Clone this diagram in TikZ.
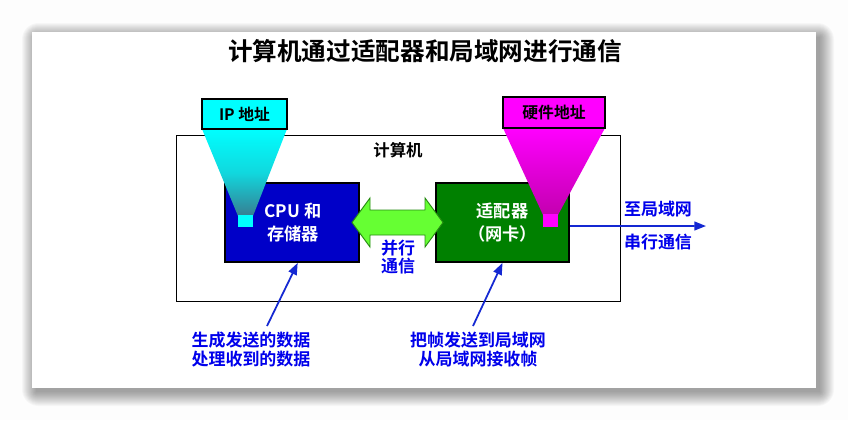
\documentclass[tikz,border=0pt]{standalone}
\usepackage{fontspec}
\setmainfont{Noto Sans CJK SC}[BoldFont={Noto Sans CJK SC Bold}]
\usetikzlibrary{arrows.meta}
\definecolor{pagegray}{RGB}{253,253,253}
\definecolor{cpublue}{RGB}{0,0,200}
\definecolor{nicgreen}{RGB}{0,128,0}
\definecolor{busgreen}{RGB}{102,255,51}
\definecolor{busedge}{RGB}{40,140,20}
\definecolor{labelblue}{RGB}{0,0,235}
\definecolor{linkblue}{RGB}{20,40,210}
\definecolor{ipcyan}{RGB}{0,255,255}
\definecolor{ipteal}{RGB}{55,125,145}
\definecolor{hwmagenta}{RGB}{255,0,255}
\definecolor{hwdeep}{RGB}{195,0,175}
\begin{document}
\begin{tikzpicture}[x=0.03cm,y=-0.03cm,
  unitbox/.style={draw=black,line width=1.6pt,inner sep=0pt,text=white,
    minimum width=4cm,minimum height=2.37cm},
  unittext/.style={text=white,align=center,inner sep=0pt,
    font=\bfseries\fontsize{14.7}{19.6}\selectfont},
  tagbox/.style={draw=black,line width=1.6pt,inner sep=0pt,
    font=\bfseries\fontsize{13.5}{16}\selectfont},
  bluetext/.style={text=labelblue,align=center,inner sep=0pt,
    font=\bfseries\fontsize{14.5}{16.2}\selectfont},
  pointer/.style={draw=linkblue,line width=1.5pt,
    -{Triangle[length=10pt,width=7.5pt]}},
  dot/.style={inner sep=0pt,minimum width=0.45cm,minimum height=0.38cm},
]
\useasboundingbox (0,0) rectangle (848,420);
\fill[pagegray] (0,0) rectangle (848,420);

% soft shadow under the sheet
\foreach \i in {0,...,14}{
  \fill[black,opacity=0.028,rounded corners=\i pt]
    (36-\i,37-\i) rectangle (820+\i,392+\i);
}
\fill[white] (32,32) rectangle (816,388);

% title
\node[font=\bfseries\fontsize{21}{24}\selectfont,inner sep=0pt] (title) at (425,51)
  {计算机通过适配器和局域网进行通信};

% the computer
\node[draw=black,line width=0.8pt,minimum width=13.32cm,minimum height=4.98cm,inner sep=0pt]
  (host) at (398,218) {};
\node[font=\bfseries\fontsize{14}{16}\selectfont,inner sep=0pt] (hostlabel) at (398,150) {计算机};

% CPU / memory and the adapter
\node[unitbox,fill=cpublue] (cpu) at (292,222.5) {};
\node[unittext] (cputext) at (293,223) {CPU 和\\存储器};
\node[unitbox,fill=nicgreen] (nic) at (502.5,222.5) {};
\node[unittext] (nictext) at (502.5,223) {适配器\\（网卡）};

% parallel bus between them
\fill[busgreen] (352,222.5) -- (370,198) -- (370,210) -- (425,210) -- (425,198)
  -- (443,222.5) -- (425,247) -- (425,235) -- (370,235) -- (370,247) -- cycle;
\draw[busedge,line width=0.8pt,line join=miter] (352,222.5) -- (370,198) -- (370,210) -- (425,210) -- (425,198)
  -- (443,222.5) -- (425,247) -- (425,235) -- (370,235) -- (370,247) -- cycle;
\node[bluetext] (bus) at (398,257) {并行\\通信};

% address funnels
\shade[top color=ipcyan,bottom color=ipteal,middle color=ipcyan!70!ipteal]
  (202,129) -- (287,129) -- (253,216) -- (238,216) -- cycle;
\shade[top color=hwmagenta,bottom color=hwdeep]
  (503,128) -- (605,128) -- (558,215) -- (543,215) -- cycle;
\node[dot,fill=ipcyan] (ipdot) at (245.5,221) {};
\node[dot,fill=hwmagenta,minimum height=0.4cm] (hwdot) at (550.5,220.5) {};

\node[tagbox,fill=ipcyan,minimum width=2.55cm,minimum height=0.9cm] (iptag) at (244.5,114) {IP 地址};
\node[tagbox,fill=hwmagenta,minimum width=3.06cm,minimum height=0.93cm] (hwtag) at (554,112.5) {硬件地址};

% serial link to the LAN
\coordinate (lanend) at (706,226);
\draw[pointer] (nic.-3) -- (lanend);
\node[bluetext] (lanto) at (658,209) {至局域网};
\node[bluetext] (serial) at (658,242) {串行通信};

% duties of each part
\node[bluetext] (cpujob) at (251,349.5) {生成发送的数据\\处理收到的数据};
\node[bluetext] (nicjob) at (478,349.5) {把帧发送到局域网\\从局域网接收帧};
\coordinate (cpujobtop) at (267,326);
\coordinate (nicjobtop) at (473,326);
\draw[pointer] (cpujobtop) -- (cpu.278);
\draw[pointer] (nicjobtop) -- (nic.south);
\end{tikzpicture}
\end{document}
